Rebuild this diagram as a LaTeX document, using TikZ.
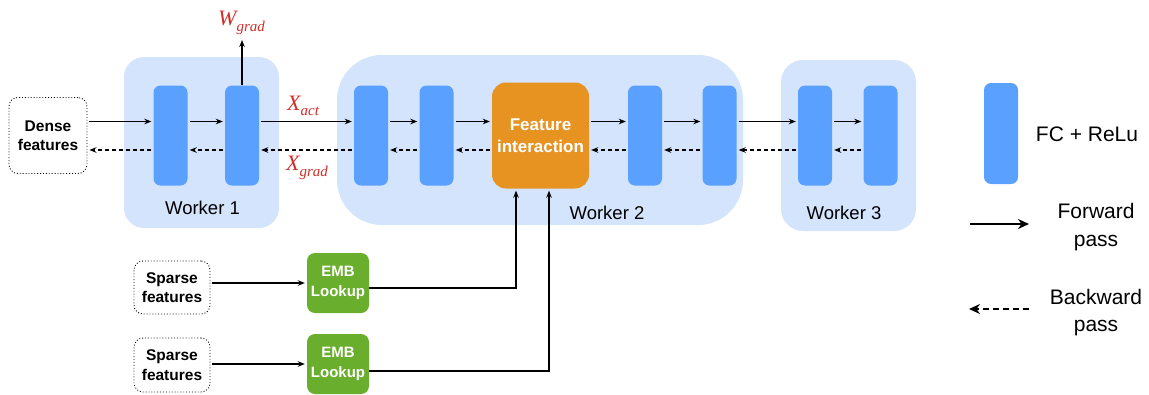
\documentclass[tikz,border=0pt]{standalone}
\usepackage{fontspec}
\setmainfont{Liberation Sans}
\newfontfamily\tms{Liberation Serif}
\usetikzlibrary{arrows.meta}
\definecolor{bgblue}{RGB}{211,228,252}
\definecolor{fcblue}{RGB}{90,160,254}
\definecolor{fiorange}{RGB}{230,147,34}
\definecolor{embgreen}{RGB}{106,174,46}
\definecolor{gradred}{RGB}{208,44,38}
\begin{document}
\begin{tikzpicture}[x=1pt,y=-1pt,
 fc/.style={fill=fcblue, rounded corners=7pt, minimum width=34pt, minimum height=100pt, inner sep=0pt},
 wbg/.style={fill=bgblue, inner sep=0pt},
 inbox/.style={draw, dotted, line width=0.9pt, rounded corners=9pt, align=center, inner sep=0pt, font=\bfseries\fontsize{15.5}{19.5}\selectfont},
 emb/.style={fill=embgreen, rounded corners=8pt, minimum width=62pt, minimum height=60pt, inner sep=0pt, align=center, text=white, font=\bfseries\fontsize{15}{19.3}\selectfont},
 fwd/.style={-{Stealth[length=7pt,width=5.5pt]}, line width=1.2pt, shorten <=2pt, shorten >=2pt},
 bwd/.style={fwd, dash pattern=on 4pt off 3pt},
 wlab/.style={anchor=base, inner sep=0pt, font=\fontsize{18.5}{20}\selectfont},
 gradlab/.style={anchor=base west, text=gradred, inner sep=0pt, font=\tms\itshape\fontsize{22}{22}\selectfont},
 leg/.style={anchor=base, inner sep=0pt, align=center, font=\fontsize{21}{28}\selectfont}
]
\useasboundingbox (0,0) rectangle (1149,394);
% worker backgrounds
\node[wbg, rounded corners=20pt, minimum width=155pt, minimum height=171pt] (w1) at (201.5,142.5) {};
\node[wbg, rounded corners=45pt, minimum width=406pt, minimum height=170pt] (w2) at (540,140) {};
\node[wbg, rounded corners=22pt, minimum width=135pt, minimum height=171pt] (w3) at (848.5,145.5) {};
\node[wlab] (w1l) at (202.5,214.3) {Worker 1};
\node[wlab] (w2l) at (607,219) {Worker 2};
\node[wlab] (w3l) at (844,219.5) {Worker 3};
% blocks
\node[fc] (b11) at (170.5,135.5) {};
\node[fc] (b12) at (242,135.5) {};
\node[fc] (b21) at (371,135.5) {};
\node[fc] (b22) at (436.5,135.5) {};
\node[fill=fiorange, rounded corners=14pt, minimum width=97pt, minimum height=106pt, inner sep=0pt, align=center, text=white, font=\bfseries\fontsize{17}{21.7}\selectfont] (fi) at (540.5,135.5) {Feature\\interaction};
\node[fc] (b23) at (645,135.5) {};
\node[fc] (b24) at (719.5,135.5) {};
\node[fc] (b31) at (815,135.5) {};
\node[fc] (b32) at (880.5,135.5) {};
% inputs
\node[inbox, minimum width=78pt, minimum height=76pt] (dense) at (48,135.5) {Dense\\features};
\node[inbox, minimum width=76pt, minimum height=53pt] (s1) at (172,287.5) {Sparse\\features};
\node[inbox, minimum width=76pt, minimum height=54pt] (s2) at (172,365) {Sparse\\features};
\node[emb] (e1) at (338,283) {EMB\\Lookup};
\node[emb] (e2) at (338,364) {EMB\\Lookup};
% forward arrows
\foreach \a/\b in {dense/b11, b11/b12, b12/b21, b21/b22, b22/fi, fi/b23, b23/b24, b24/b31, b31/b32}
  \draw[fwd] ([yshift=14pt]\a.east) -- ([yshift=14pt]\b.west);
% backward arrows
\foreach \a/\b in {dense/b11, b11/b12, b12/b21, b21/b22, b22/fi, fi/b23, b23/b24, b24/b31, b31/b32}
  \draw[bwd] ([yshift=-14.5pt]\b.west) -- ([yshift=-14.5pt]\a.east);
% W grad
\coordinate (wtip) at (242,40);
\draw[fwd, shorten <=0pt, shorten >=0pt] (b12.north) -- (wtip);
\node[gradlab] (wg) at (218,25) {W\raisebox{-6pt}{\fontsize{15}{15}\selectfont grad}};
\node[gradlab] (xa) at (287,110) {X\raisebox{-5pt}{\fontsize{15}{15}\selectfont act}};
\node[gradlab] (xg) at (286,170) {X\raisebox{-6pt}{\fontsize{15}{15}\selectfont grad}};
% sparse paths
\draw[fwd] (s1.east |- e1.west) -- (e1.west);
\draw[fwd] (s2.east |- e2.west) -- (e2.west);
\draw[fwd, shorten <=0pt] ([yshift=-5pt]e1.east) -| ([xshift=-24.5pt]fi.south);
\draw[fwd, shorten <=0pt] ([yshift=-7pt]e2.east) -| ([xshift=8.5pt]fi.south);
% legend
\node[fc, minimum height=101pt] (lfc) at (1001,133.5) {};
\node[leg] (lfct) at (1087,141.7) {FC + ReLu};
\coordinate (lf1) at (970,224);
\coordinate (lf2) at (1029,224);
\draw[-{Stealth[length=11pt,width=10pt]}, line width=2.2pt] (lf1) -- (lf2);
\node[leg] (lft) at (1096,246.5) {Forward\\pass};
\coordinate (lb1) at (1029,309);
\coordinate (lb2) at (969,309);
\draw[-{Stealth[length=11pt,width=10pt]}, line width=2.2pt, dash pattern=on 6pt off 4pt] (lb1) -- (lb2);
\node[leg, font=\fontsize{21}{27}\selectfont] (lbt) at (1096,331.5) {Backward\\pass};
\end{tikzpicture}
\end{document}
